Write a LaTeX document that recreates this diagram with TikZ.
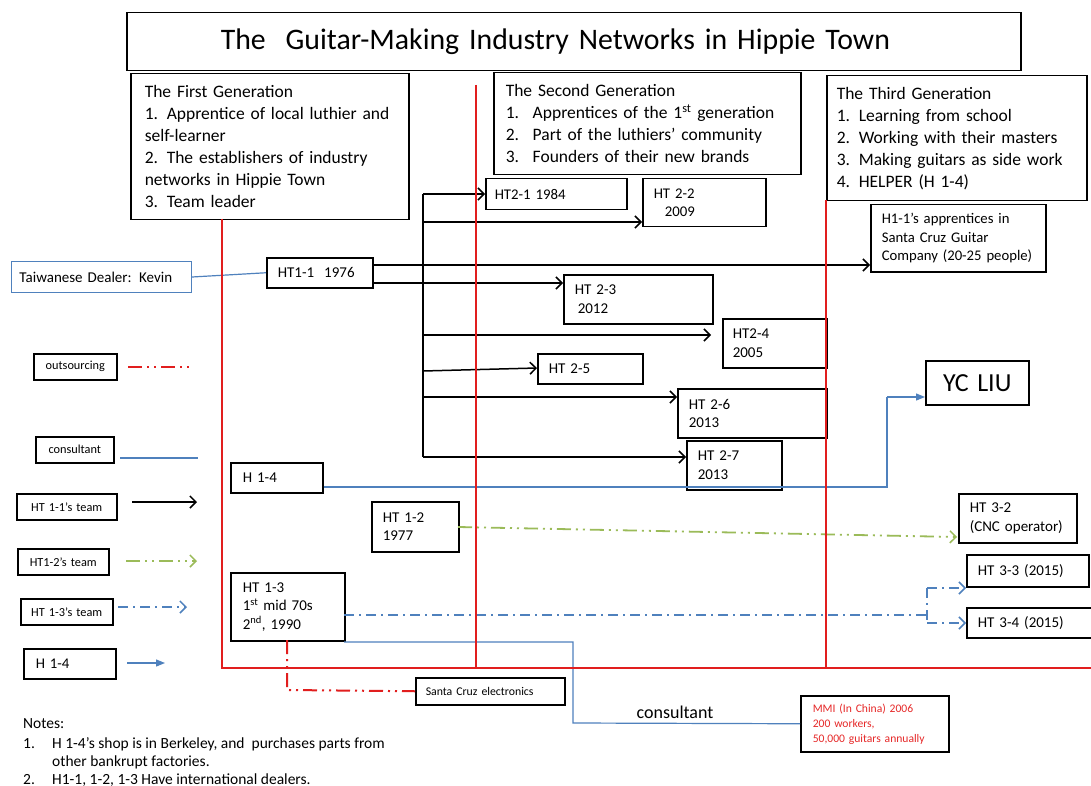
\documentclass[tikz,border=0pt]{standalone}
\usepackage{fontspec}
\setmainfont{Carlito}
\usetikzlibrary{arrows.meta}
\definecolor{lred}{RGB}{225,30,30}
\definecolor{lblue}{RGB}{79,129,189}
\definecolor{lgreen}{RGB}{155,187,89}
\definecolor{mred}{RGB}{230,40,40}
\tikzset{
  box/.style={draw=black, line width=1.5pt, fill=white, inner ysep=0pt, align=left},
  blk/.style={draw=black, line width=1.5pt},
  arr/.style={blk, -{Straight Barb[length=6pt,width=12pt,line width=1.5pt]}},
  redline/.style={draw=lred, line width=2pt},
  bline/.style={draw=lblue, line width=1.2pt},
  barr/.style={bline, -{Triangle[length=9pt,width=7pt]}},
  outs/.style={draw=lred, line width=2pt, dash pattern=on 14pt off 5pt on 2pt off 5pt on 2pt off 5pt},
  greenl/.style={draw=lgreen, line width=1.8pt, dash pattern=on 14pt off 5pt on 2pt off 5pt on 2pt off 5pt},
  greenarr/.style={greenl, -{Straight Barb[length=6pt,width=12pt,line width=1.5pt]}},
  bluedash/.style={draw=lblue, line width=1.8pt, dash pattern=on 10pt off 5pt on 2pt off 5pt},
  bluedarr/.style={bluedash, -{Straight Barb[length=6pt,width=12pt,line width=1.5pt]}},
  fbig/.style={font=\fontsize{17.5}{22}\selectfont},
  fmid/.style={font=\fontsize{15}{18.5}\selectfont},
  fsm/.style={font=\fontsize{14.8}{18}\selectfont},
  fxs/.style={font=\fontsize{11.8}{15}\selectfont},
  fleg/.style={font=\fontsize{12.3}{14}\selectfont},
  fnote/.style={font=\fontsize{15.5}{18}\selectfont},
}
\newcommand\bx[8][11]{%
  \pgfmathsetmacro\bxw{#5-#3}\pgfmathsetmacro\bxh{#6-#4}\pgfmathsetmacro\bxt{#5-#3-2*#1}%
  \node[box,anchor=north west,minimum width=\bxw pt,minimum height=\bxh pt,
        inner xsep=#1pt,text width=\bxt pt,#7] (#2) at (#3,#4) {#8};}
\begin{document}
\begin{tikzpicture}[x=1pt,y=-1pt]
\useasboundingbox (0,0) rectangle (1091,786);
\fill[white] (0,0) rectangle (1091,786);

% ---------- boxes ----------
\bx[94]{title}{126}{12}{1020}{70}{font=\fontsize{29.8}{32}\selectfont}{The\ \ Guitar-Making Industry Networks in Hippie Town}
\bx[14]{g1}{130}{73}{408}{219}{fbig}{The First Generation\\1. Apprentice of local luthier and\\self-learner\\2. The establishers of industry\\networks in Hippie Town\\3. Team leader}
\bx[12]{g2}{493}{72}{800}{174}{fbig}{The Second Generation\\\makebox[27pt][l]{1.}Apprentices of the 1\textsuperscript{st} generation\\\makebox[27pt][l]{2.}Part of the luthiers’ community\\\makebox[27pt][l]{3.}Founders of their new brands}
\bx[10]{g3}{826}{75}{1086}{200}{fbig}{The Third Generation\\1. Learning from school\\2. Working with their masters\\3. Making guitars as side work\\4. HELPER (H 1-4)}

\bx[8]{tw}{11}{261}{191}{292}{draw=lblue,line width=1pt,fmid}{Taiwanese Dealer: Kevin}
\bx{ht11}{266}{257}{372}{287}{fmid}{HT1-1\ \ 1976}
\bx[9]{ht21}{485}{178}{626}{209}{fsm}{HT2-1 1984}
\bx{ht22}{642}{178}{765}{226}{fsm}{HT 2-2\\\hspace*{11pt}2009}
\bx{ht23}{563}{274}{712}{323}{fmid}{HT 2-3\\\hspace*{3pt}2012}
\bx[10]{ht24}{722}{318}{826}{367}{fmid}{HT2-4\\2005}
\bx{ht25}{537}{353}{642}{383}{fmid}{HT 2-5}
\bx{ht26}{677}{388}{826}{437}{fmid}{HT 2-6\\2013}
\bx{ht27}{686}{440}{781}{489}{fmid}{HT 2-7\\2013}
\bx[6]{appr}{870}{204}{1045}{271}{font=\fontsize{14.7}{18.5}\selectfont,inner xsep=6pt}{\hspace*{5pt}H1-1’s apprentices in\\\hspace*{5pt}Santa Cruz Guitar\\\hspace*{5pt}Company (20-25 people)}
\bx[4]{yc}{925}{360}{1028}{404}{align=center,font=\fontsize{26}{28}\selectfont}{YC LIU}
\bx[12]{h14}{230}{462}{322}{492}{fmid}{H 1-4}
\bx{ht12}{371}{501}{458}{551}{fmid}{HT 1-2\\1977}
\bx[12]{ht13}{230}{572}{344}{640}{fmid}{HT 1-3\\1\textsuperscript{st} mid 70s\\2\textsuperscript{nd}, 1990}
\bx{ht32}{958}{493}{1076}{542}{fmid}{HT 3-2\\(CNC operator)}
\bx{ht33}{966}{554}{1088}{586}{fmid}{HT 3-3 (2015)}
\bx{ht34}{966}{607}{1096}{637}{fmid}{HT 3-4 (2015)}
\bx[10]{sc}{415}{677}{564}{704}{fxs}{Santa Cruz electronics}
\bx[12]{mmi}{800}{695}{948}{751}{font=\fontsize{11.6}{15}\selectfont,text=mred}{MMI (In China) 2006\\200 workers,\\50,000 guitars annually}

% legend boxes
\bx[2]{lg1}{33}{353}{116}{379}{fleg,align=center}{outsourcing}
\bx[2]{lg2}{35}{436}{113}{462}{fleg,align=center}{consultant}
\bx[2]{lg3}{16}{493}{116}{519}{fleg,align=center}{HT 1-1’s team}
\bx[2]{lg4}{17}{548}{108}{574}{fleg,align=center}{HT1-2’s team}
\bx[2]{lg5}{20}{598}{112}{624}{fleg,align=center}{HT 1-3’s team}
\bx[12]{lg6}{23}{648}{115}{678}{font=\fontsize{14.8}{17}\selectfont}{H 1-4}

% ---------- coordinates ----------
\coordinate (tr1) at (423,194);
\coordinate (tr2) at (423,222);
\coordinate (tr4) at (423,335);
\coordinate (tr5) at (423,371);
\coordinate (tr6) at (423,397);
\coordinate (tr7) at (423,457);
\coordinate (a1) at (372,265);
\coordinate (a3) at (372,283);
\coordinate (e4) at (711,335);
\coordinate (e5) at (537,368);
\coordinate (bk1) at (887,487);
\coordinate (bk2) at (887,397);
\coordinate (g12) at (458,527);
\coordinate (g32) at (957,537);
\coordinate (bd0) at (344,615);
\coordinate (bd1) at (927,615);
\coordinate (bd2) at (927,588);
\coordinate (bd3) at (927,623);
\coordinate (bs0) at (344,642);
\coordinate (bs1) at (573,642);
\coordinate (bs2) at (573,723);
\coordinate (rd0) at (287,640);
\coordinate (rd1) at (287,690);

% ---------- black network ----------
\draw[blk] (tr1) -- (tr7);
\draw[arr] (tr1) -- (ht21.west |- tr1);
\draw[arr] (tr2) -- (ht22.west |- tr2);
\draw[arr] (a1) -- (appr.west |- a1);
\draw[arr] (a3) -- (ht23.west |- a3);
\draw[arr] (tr4) -- (e4);
\draw[arr] (tr5) -- (e5);
\draw[arr] (tr6) -- (ht26.west |- tr6);
\draw[arr] (tr7) -- (ht27.west |- tr7);

% ---------- blue / green / red connectors ----------
\draw[bline] (tw.east) -- (ht11.west);
\draw[bline] (h14.east |- bk1) -- (bk1) -- (bk2);
\draw[barr] (bk2) -- (yc.west |- bk2);
\draw[greenarr] (g12) -- (g32);
\draw[bluedash] (bd0) -- (bd1);
\draw[bluedash] (bd2) -- (bd3);
\draw[bluedarr] (bd2) -- (ht33.west |- bd2);
\draw[bluedarr] (bd3) -- (ht34.west |- bd3);
\draw[bline] (bs0) -- (bs1) -- (bs2) -- (mmi.west);
\draw[outs] (rd0) -- (rd1) -- (sc.west);
\node[font=\fontsize{18}{20}\selectfont] (cons) at (675,712) {consultant};

% ---------- legend lines ----------
\coordinate (l1a) at (128,367); \coordinate (l1b) at (193,367);
\coordinate (l2a) at (120,458); \coordinate (l2b) at (198,458);
\coordinate (l3a) at (132,502); \coordinate (l3b) at (197,502);
\coordinate (l4a) at (126,561); \coordinate (l4b) at (197,561);
\coordinate (l5a) at (118,607); \coordinate (l5b) at (187,607);
\coordinate (l6a) at (127,663); \coordinate (l6b) at (165,663);
\draw[outs] (l1a) -- (l1b);
\draw[bline] (l2a) -- (l2b);
\draw[arr] (l3a) -- (l3b);
\draw[greenarr] (l4a) -- (l4b);
\draw[bluedarr] (l5a) -- (l5b);
\draw[barr] (l6a) -- (l6b);

% ---------- red generation lines ----------
\coordinate (r1t) at (222,219); \coordinate (r1b) at (222,668);
\coordinate (r2t) at (476,85);  \coordinate (r2b) at (476,668);
\coordinate (r3t) at (826,200); \coordinate (r3b) at (826,668);
\coordinate (rend) at (1091,668);
\draw[redline] (r1t) -- (r1b) -- (rend);
\draw[redline] (r2t) -- (r2b);
\draw[redline] (r3t) -- (r3b);

% ---------- notes ----------
\tikzset{nt/.style={anchor=base west,inner sep=0pt,fnote}}
\node[nt] (n0) at (23,728) {Notes:};
\node[nt] (n1) at (23,748) {1.};
\node[nt] (n1t) at (52,748) {H 1-4’s shop is in Berkeley, and\ \ purchases parts from};
\node[nt] (n1u) at (52,766) {other bankrupt factories.};
\node[nt] (n2) at (23,784) {2.};
\node[nt] (n2t) at (52,784) {H1-1, 1-2, 1-3 Have international dealers.};
\end{tikzpicture}
\end{document}
